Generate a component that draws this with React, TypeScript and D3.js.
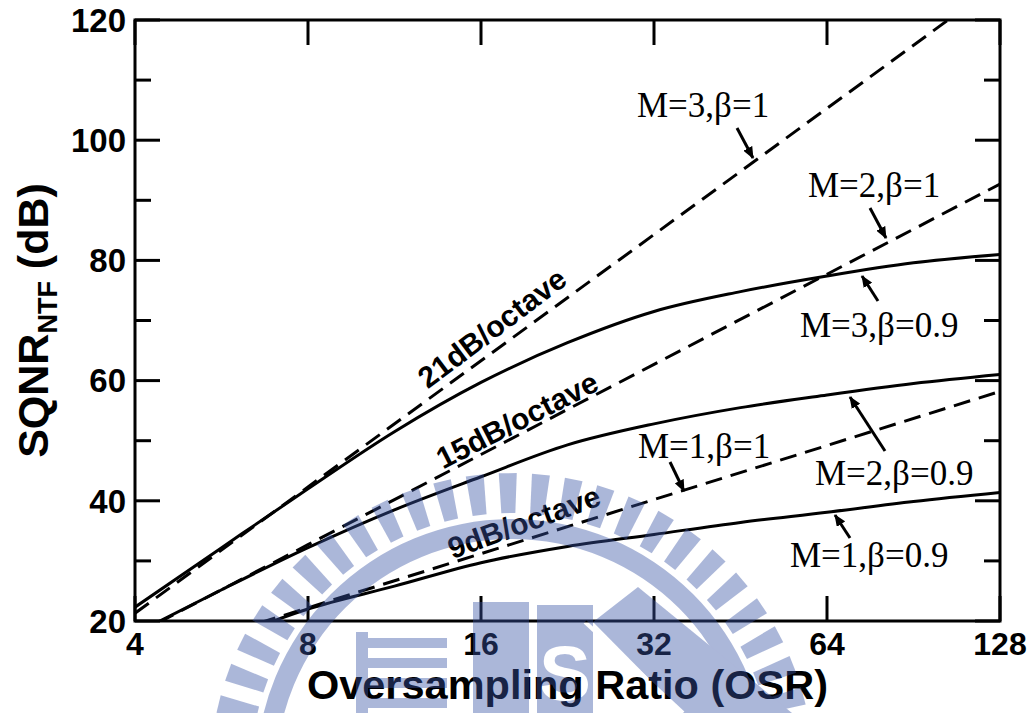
import React from 'react';
import * as d3 from 'd3';

const W = 1034;
const H = 713;
const X0 = 135;
const X1 = 1000;
const Y0 = 20;
const Y1 = 621;

// Axis ticks
const osrTicks = [4, 8, 16, 32, 64, 128];
const dbTicks = [20, 40, 60, 80, 100, 120];
const dbMinorTicks = [30, 50, 70, 90, 110];

// Ideal NTF (beta = 1): straight lines on a log2 OSR axis
const idealOsr = [4, 8, 16, 32, 64, 128];
const idealM1 = [13.2, 22.2, 31.2, 40.2, 49.2, 58.2];
const idealM2 = [17.7, 32.7, 47.7, 62.7, 77.7, 92.7];
const idealM3 = [21.3, 42.3, 63.3, 84.3, 105.3, 126.3];

// Leaky integrators (beta = 0.9)
const leakyOsr = [4, 5.66, 8, 11.31, 16, 22.63, 32, 45.25, 64, 90.51, 128];
const leakyM1 = [12.8, 16.9, 22.0, 25.8, 29.7, 32.4, 34.4, 36.4, 38.1, 39.9, 41.4];
const leakyM2 = [17.9, 25.2, 32.2, 38.5, 44.0, 49.3, 52.8, 55.5, 57.6, 59.5, 61.0];
const leakyM3 = [22.3, 32.2, 42.0, 51.5, 59.7, 66.3, 71.5, 74.8, 77.4, 79.6, 81.0];

// Slope labels along the ideal lines
const slopeLabels = [
  { text: '21dB/octave', cx: 492, cy: 328, angle: -37 },
  { text: '15dB/octave', cx: 517, cy: 420, angle: -27 },
  { text: '9dB/octave', cx: 524, cy: 522, angle: -20 },
];

// Curve annotations: label anchor and arrow (tail -> tip)
const notes = [
  { text: 'M=3,β=1', lx: 637, ly: 117, ax: 737, ay: 128, bx: 753, by: 158 },
  { text: 'M=2,β=1', lx: 808, ly: 197, ax: 870, ay: 208, bx: 886, by: 238 },
  { text: 'M=3,β=0.9', lx: 800, ly: 337, ax: 878, ay: 301, bx: 862, by: 276 },
  { text: 'M=1,β=1', lx: 638, ly: 458, ax: 670, ay: 462, bx: 684, by: 491 },
  { text: 'M=2,β=0.9', lx: 815, ly: 485, ax: 885, ay: 451, bx: 850, by: 397 },
  { text: 'M=1,β=0.9', lx: 790, ly: 567, ax: 850, ay: 538, bx: 835, by: 515 },
];

const SANS = '"Liberation Sans", Arial, Helvetica, sans-serif';
const SERIF = '"Liberation Serif", "Times New Roman", serif';

function Watermark() {
  const cx = 512;
  const cy = 775;
  const rIn = 262;
  const rOut = 302;
  const teethAngles = d3.range(0, 30).map((i) => 181 + i * 6.3);
  const toothPts = (deg: number) => {
    const a = (deg * Math.PI) / 180;
    const hwO = 9 / rOut;
    const hwI = 7 / rIn;
    const p = (r: number, t: number) => `${cx + r * Math.cos(t)},${cy + r * Math.sin(t)}`;
    return [p(rIn, a - hwI), p(rOut, a - hwO), p(rOut, a + hwO), p(rIn, a + hwI)].join(' ');
  };
  const band = d3.arc()({
    innerRadius: 236,
    outerRadius: 256,
    startAngle: -Math.PI / 2,
    endAngle: Math.PI / 2,
  } as any) as string;
  const bars = d3.range(0, 4).map((i) => 638 + i * 20);
  return (
    <g opacity={0.42} fill="rgb(58,85,165)" mask="url(#wmMask)">
      {teethAngles.map((a, i) => (
        <polygon key={i} points={toothPts(a)} />
      ))}
      <path d={band} transform={`translate(${cx},${cy})`} />
      <rect x={356} y={632} width={12} height={81} />
      {bars.map((b, i) => (
        <rect key={i} x={356} y={b} width={91} height={10} />
      ))}
      <rect x={473} y={602} width={56} height={111} />
      <rect x={537} y={605} width={56} height={108} />
      <polygon points="593,622 638,587 792,713 683,713" />
    </g>
  );
}

export default function App() {
  const x = d3.scaleLog().base(2).domain([4, 128]).range([X0, X1]);
  const y = d3.scaleLinear().domain([20, 120]).range([Y1, Y0]);

  const straight = d3
    .line<[number, number]>()
    .x((d) => x(d[0]))
    .y((d) => y(d[1]));
  const smooth = d3
    .line<[number, number]>()
    .x((d) => x(d[0]))
    .y((d) => y(d[1]))
    .curve(d3.curveMonotoneX);

  const ideal = [idealM1, idealM2, idealM3].map((vals) =>
    straight(idealOsr.map((o, i) => [o, vals[i]] as [number, number]))
  );
  const leaky = [leakyM1, leakyM2, leakyM3].map((vals) =>
    smooth(leakyOsr.map((o, i) => [o, vals[i]] as [number, number]))
  );

  const majorLen = 25;
  const minorLen = 16;

  return (
    <svg
      width={W}
      height={H}
      viewBox={`0 0 ${W} ${H}`}
      style={{ position: 'absolute', left: 0, top: 0, background: '#fff' }}
    >
      <defs>
        <clipPath id="plotClip">
          <rect x={X0} y={Y0} width={X1 - X0} height={Y1 - Y0} />
        </clipPath>
        <marker
          id="arrowHead"
          viewBox="0 0 12 10"
          refX={11}
          refY={5}
          markerWidth={12}
          markerHeight={10}
          markerUnits="userSpaceOnUse"
          orient="auto"
        >
          <path d="M0,0 L12,5 L0,10 Z" fill="#000" />
        </marker>
        <mask id="wmMask" maskUnits="userSpaceOnUse" x={0} y={0} width={W} height={H}>
          <rect x={0} y={0} width={W} height={H} fill="#fff" />
          <text
            x={565}
            y={700}
            textAnchor="middle"
            fontFamily={SANS}
            fontWeight="bold"
            fontSize={78}
            fill="#000"
          >
            S
          </text>
          <line x1={585} y1={622} x2={683} y2={713} stroke="#000" strokeWidth={4} />
        </mask>
      </defs>

      <rect x={0} y={0} width={W} height={H} fill="#fff" />

      {/* curves */}
      <g clipPath="url(#plotClip)" fill="none" stroke="#000" strokeWidth={3}>
        {ideal.map((d, i) => (
          <path key={`i${i}`} d={d ?? ''} strokeDasharray="17 9" />
        ))}
        {leaky.map((d, i) => (
          <path key={`l${i}`} d={d ?? ''} />
        ))}
      </g>

      {/* frame */}
      <rect
        x={X0}
        y={Y0}
        width={X1 - X0}
        height={Y1 - Y0}
        fill="none"
        stroke="#000"
        strokeWidth={3}
      />

      {/* ticks */}
      <g stroke="#000" strokeWidth={3}>
        {dbTicks.map((t) => (
          <g key={`yt${t}`}>
            <line x1={X0} x2={X0 + majorLen} y1={y(t)} y2={y(t)} />
            <line x1={X1} x2={X1 - majorLen} y1={y(t)} y2={y(t)} />
          </g>
        ))}
        {dbMinorTicks.map((t) => (
          <g key={`ym${t}`}>
            <line x1={X0} x2={X0 + minorLen} y1={y(t)} y2={y(t)} />
            <line x1={X1} x2={X1 - minorLen} y1={y(t)} y2={y(t)} />
          </g>
        ))}
        {osrTicks.map((t) => (
          <g key={`xt${t}`}>
            <line x1={x(t)} x2={x(t)} y1={Y1} y2={Y1 - majorLen} />
            <line x1={x(t)} x2={x(t)} y1={Y0} y2={Y0 + majorLen} />
          </g>
        ))}
      </g>

      {/* tick labels */}
      <g fontFamily={SANS} fontWeight="bold" fill="#000">
        {dbTicks.map((t) => (
          <text key={`yl${t}`} x={126} y={y(t)} dy="0.36em" textAnchor="end" fontSize={33}>
            {t}
          </text>
        ))}
        {osrTicks.map((t) => (
          <text key={`xl${t}`} x={x(t)} y={655} textAnchor="middle" fontSize={32}>
            {t}
          </text>
        ))}
      </g>

      {/* axis titles */}
      <text
        x={(X0 + X1) / 2}
        y={699}
        textAnchor="middle"
        fontFamily={SANS}
        fontWeight="bold"
        fontSize={41.5}
      >
        Oversampling Ratio (OSR)
      </text>
      <text
        transform={`translate(48,${(Y0 + Y1) / 2}) rotate(-90)`}
        textAnchor="middle"
        fontFamily={SANS}
        fontWeight="bold"
        fontSize={43}
      >
        SQNR
        <tspan fontSize={27} dy={9}>
          NTF
        </tspan>
        <tspan dy={-9}> (dB)</tspan>
      </text>

      {/* slope labels */}
      <g fontFamily={SANS} fontWeight="bold" fontSize={30} fill="#000">
        {slopeLabels.map((s) => (
          <text
            key={s.text}
            transform={`translate(${s.cx},${s.cy}) rotate(${s.angle})`}
            textAnchor="middle"
            dy="0.35em"
          >
            {s.text}
          </text>
        ))}
      </g>

      {/* curve annotations */}
      <g fontFamily={SERIF} fontSize={35} fill="#000">
        {notes.map((n) => (
          <text key={n.text} x={n.lx} y={n.ly}>
            {n.text}
          </text>
        ))}
      </g>
      <g stroke="#000" strokeWidth={3}>
        {notes.map((n) => (
          <line
            key={`a${n.text}`}
            x1={n.ax}
            y1={n.ay}
            x2={n.bx}
            y2={n.by}
            markerEnd="url(#arrowHead)"
          />
        ))}
      </g>

      <Watermark />
    </svg>
  );
}
